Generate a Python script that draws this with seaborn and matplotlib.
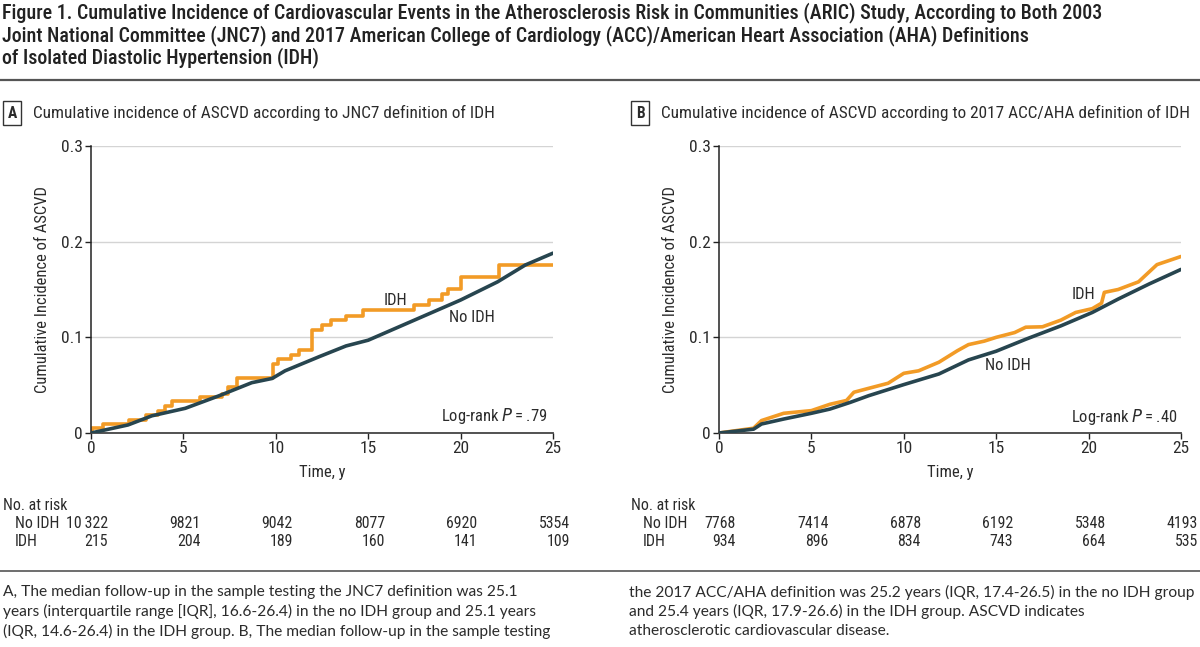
import numpy as np
import pandas as pd
import matplotlib
matplotlib.use("Agg")
import matplotlib.pyplot as plt
import matplotlib.transforms as mtransforms
import seaborn as sns
from matplotlib import font_manager

# panel A (JNC7) curves
a_idh_t = [0, 0.05, 0.67, 2.03, 3.0, 3.6, 4.0, 4.4, 5.9, 7.1, 7.4, 7.9, 9.85, 10.1,
           10.8, 11.27, 11.96, 12.5, 13.0, 13.8, 14.7, 17.5, 18.3, 19.0, 19.3, 20.0, 22.1, 25]
a_idh_v = [0, 0.005, 0.0094, 0.0136, 0.0188, 0.023, 0.028, 0.033, 0.038, 0.041, 0.048, 0.0575,
           0.072, 0.077, 0.0815, 0.0868, 0.1077, 0.113, 0.118, 0.122, 0.1285, 0.134, 0.139,
           0.145, 0.1505, 0.163, 0.1756, 0.1756]
a_noidh_t = [0, 2.0, 3.3, 5.1, 6.9, 8.7, 9.8, 10.5, 12.35, 13.8, 15, 16.25, 17.5, 20, 22, 23.5, 25]
a_noidh_v = [0, 0.0084, 0.018, 0.0258, 0.0387, 0.0526, 0.057, 0.065, 0.0798, 0.091, 0.097,
             0.1075, 0.118, 0.139, 0.158, 0.1756, 0.188]

# panel B (2017 ACC/AHA) curves
b_idh_t = [0, 1.87, 2.3, 3.5, 5.0, 6.0, 6.9, 7.3, 8.1, 9.15, 10.0, 10.8, 11.9, 12.9, 13.5,
           14.35, 15.0, 16.0, 16.6, 17.5, 18.5, 19.3, 20.2, 20.7, 20.85, 21.6, 22.7, 23.7, 25]
b_idh_v = [0, 0.005, 0.013, 0.0206, 0.0234, 0.030, 0.034, 0.0426, 0.0467, 0.052, 0.0624, 0.065,
           0.074, 0.086, 0.0924, 0.096, 0.100, 0.105, 0.1106, 0.111, 0.118, 0.126, 0.130,
           0.1357, 0.147, 0.150, 0.158, 0.176, 0.1845]
b_noidh_t = [0, 1.87, 2.3, 3.5, 5.0, 6.0, 7.1, 8.1, 10.0, 11.9, 13.5, 15.0, 16.6, 18.5, 20.2,
             21.6, 23.3, 25]
b_noidh_v = [0, 0.004, 0.0094, 0.0146, 0.0206, 0.025, 0.032, 0.039, 0.0506, 0.0617, 0.0764,
             0.0855, 0.098, 0.112, 0.126, 0.140, 0.156, 0.171]

risk_times = [0, 5, 10, 15, 20, 25]
a_risk_noidh = [10322, 9821, 9042, 8077, 6920, 5354]
a_risk_idh = [215, 204, 189, 160, 141, 109]
b_risk_noidh = [7768, 7414, 6878, 6192, 5348, 4193]
b_risk_idh = [934, 896, 834, 743, 664, 535]

title_lines = [
    "Figure 1. Cumulative Incidence of Cardiovascular Events in the Atherosclerosis Risk in Communities (ARIC) Study, According to Both 2003",
    "Joint National Committee (JNC7) and 2017 American College of Cardiology (ACC)/American Heart Association (AHA) Definitions",
    "of Isolated Diastolic Hypertension (IDH)",
]
title_a = "Cumulative incidence of ASCVD according to JNC7 definition of IDH"
title_b = "Cumulative incidence of ASCVD according to 2017 ACC/AHA definition of IDH"
caption_left = [
    "A, The median follow-up in the sample testing the JNC7 definition was 25.1",
    "years (interquartile range [IQR], 16.6-26.4) in the no IDH group and 25.1 years",
    "(IQR, 14.6-26.4) in the IDH group. B, The median follow-up in the sample testing",
]
caption_right = [
    "the 2017 ACC/AHA definition was 25.2 years (IQR, 17.4-26.5) in the no IDH group",
    "and 25.4 years (IQR, 17.9-26.6) in the IDH group. ASCVD indicates",
    "atherosclerotic cardiovascular disease.",
]

ORANGE = "#F29B26"
TEAL = "#27454F"
TXT = "#2b2b2b"

sns.set_style("white")
names = {f.name for f in font_manager.fontManager.ttflist}
narrow_first = "Roboto"
for cand in ["Roboto Condensed", "Liberation Sans Narrow", "Noto Sans Condensed", "Open Sans Condensed"]:
    if cand in names:
        narrow_first = cand
        break
NARROW = [narrow_first, "DejaVu Sans"]
BODY = ["Lato", "DejaVu Sans"]
plt.rcParams["font.family"] = NARROW

W, H = 1200, 647
fig = plt.figure(figsize=(W / 100, H / 100), dpi=100)
renderer = fig.canvas.get_renderer()


def text_w(s, size, family, weight="normal"):
    t = fig.text(0, 0, s, fontsize=size, family=family, fontweight=weight)
    w = t.get_window_extent(renderer).width
    t.remove()
    return w


# sizes fitted to the widths measured on the reference
k = 459 / text_w(title_a, 10, NARROW) * 10 / 12.5
FS = 12 * k            # ticks, labels, notes
FS_PT = 12.5 * k       # panel headings
FS_TAB = 11.5 * k
FS_TITLE = 1098 / text_w(title_lines[0], 10, NARROW, "medium") * 10
cap_l = 552 / text_w(caption_left[0], 10, BODY) * 10
cap_r = 566 / max(text_w(s, 10, BODY) for s in caption_right) * 10
FS_CAP = min(cap_l, cap_r)


def fx(px):
    return px / W


def fy(py):
    return 1 - py / H


def fmt_n(n):
    s = str(n)
    return s[:-3] + "\u2009" + s[-3:] if n >= 10000 else s


def panel(left_px, letter, title, idh_t, idh_v, no_t, no_v, idh_step,
          idh_lab, no_lab, p_text, risk_no, risk_idh):
    ax = fig.add_axes([fx(left_px), fy(433), fx(462), 287 / H])
    df_no = pd.DataFrame({"t": no_t, "v": no_v})
    df_idh = pd.DataFrame({"t": idh_t, "v": idh_v})
    sns.lineplot(data=df_no, x="t", y="v", color=TEAL, lw=2.6, ax=ax, zorder=3,
                 estimator=None, sort=False)
    kw = {"drawstyle": "steps-post"} if idh_step else {}
    sns.lineplot(data=df_idh, x="t", y="v", color=ORANGE, lw=2.6, ax=ax, zorder=2,
                 estimator=None, sort=False, **kw)
    ax.set_xlim(0, 25)
    ax.set_ylim(0, 0.3)
    ax.set_xticks(risk_times)
    ax.set_yticks([0, 0.1, 0.2, 0.3])
    ax.set_yticklabels(["0", "0.1", "0.2", "0.3"])
    ax.yaxis.grid(True, color="#d4d4d4", lw=1)
    ax.set_axisbelow(True)
    for s in ["top", "right"]:
        ax.spines[s].set_visible(False)
    ax.spines["left"].set_color("#222222")
    ax.spines["bottom"].set_color("#444444")
    ax.spines["left"].set_linewidth(1.1)
    ax.spines["bottom"].set_linewidth(1.3)
    ax.tick_params(axis="both", direction="out", length=4, width=1, color="#222222",
                   labelsize=FS * 1.05, labelcolor=TXT, pad=2, left=True, bottom=True)
    ax.set_xlabel("Time, y", fontsize=FS, color=TXT, labelpad=6)
    ax.set_ylabel("Cumulative Incidence of ASCVD", fontsize=FS, color=TXT)
    ax.yaxis.set_label_coords(-41 / 462, 0.5)

    ax.text(idh_lab[0], idh_lab[1], "IDH", fontsize=FS, color=TXT, ha="center", va="center")
    ax.text(no_lab[0], no_lab[1], "No IDH", fontsize=FS, color=TXT, ha="center", va="center")
    ax.text(p_text[0], p_text[1], "Log-rank $\\it{P}$\u2009=\u2009" + p_text[2], fontsize=FS,
            color=TXT, ha="right", va="center")

    # panel heading with boxed letter
    fig.text(fx(left_px - 79), fy(113), letter, fontsize=FS_PT * 0.9, color=TXT, ha="center",
             va="center", fontweight="semibold",
             bbox=dict(boxstyle="square,pad=0.3", fc="white", ec="#333333", lw=1))
    fig.text(fx(left_px - 58), fy(113), title, fontsize=FS_PT, color=TXT, ha="left", va="center")

    # number at risk
    fig.text(fx(left_px - 88), fy(505), "No. at risk", fontsize=FS_TAB, color=TXT, va="center")
    fig.text(fx(left_px - 76), fy(524), "No IDH", fontsize=FS_TAB, color=TXT, va="center")
    fig.text(fx(left_px - 76), fy(542), "IDH", fontsize=FS_TAB, color=TXT, va="center")
    tr = mtransforms.blended_transform_factory(ax.transData, fig.transFigure)
    tr = mtransforms.offset_copy(tr, fig=fig, x=17, y=0, units="dots")
    for t, n1, n2 in zip(risk_times, risk_no, risk_idh):
        ax.text(t, fy(524), fmt_n(n1), transform=tr, fontsize=FS_TAB, color=TXT, ha="right", va="center")
        ax.text(t, fy(542), fmt_n(n2), transform=tr, fontsize=FS_TAB, color=TXT, ha="right", va="center")
    return ax


panel(91, "A", title_a, a_idh_t, a_idh_v, a_noidh_t, a_noidh_v, True,
      (16.5, 0.138), (20.6, 0.121), (24.7, 0.018, ".79"),
      a_risk_noidh, a_risk_idh)
panel(719, "B", title_b, b_idh_t, b_idh_v, b_noidh_t, b_noidh_v, False,
      (19.7, 0.1447), (15.65, 0.0705), (24.8, 0.017, ".40"),
      b_risk_noidh, b_risk_idh)

# figure title and rules
for i, line in enumerate(title_lines):
    fig.text(fx(2), fy(13 + 22.5 * i), line, fontsize=FS_TITLE, color="#222222", ha="left",
             va="center", fontweight="medium")
fig.add_artist(plt.Line2D([0, 1], [fy(80), fy(80)], color="#555555", lw=1.6))
fig.add_artist(plt.Line2D([0, 1], [fy(571), fy(571)], color="#555555", lw=1.2))

for i, (l, r) in enumerate(zip(caption_left, caption_right)):
    y = fy(592 + 19.5 * i)
    fig.text(fx(3), y, l, fontsize=FS_CAP, color=TXT, ha="left", va="center", family=BODY)
    fig.text(fx(629), y, r, fontsize=FS_CAP, color=TXT, ha="left", va="center", family=BODY)

fig.savefig("out.png", dpi=100)
